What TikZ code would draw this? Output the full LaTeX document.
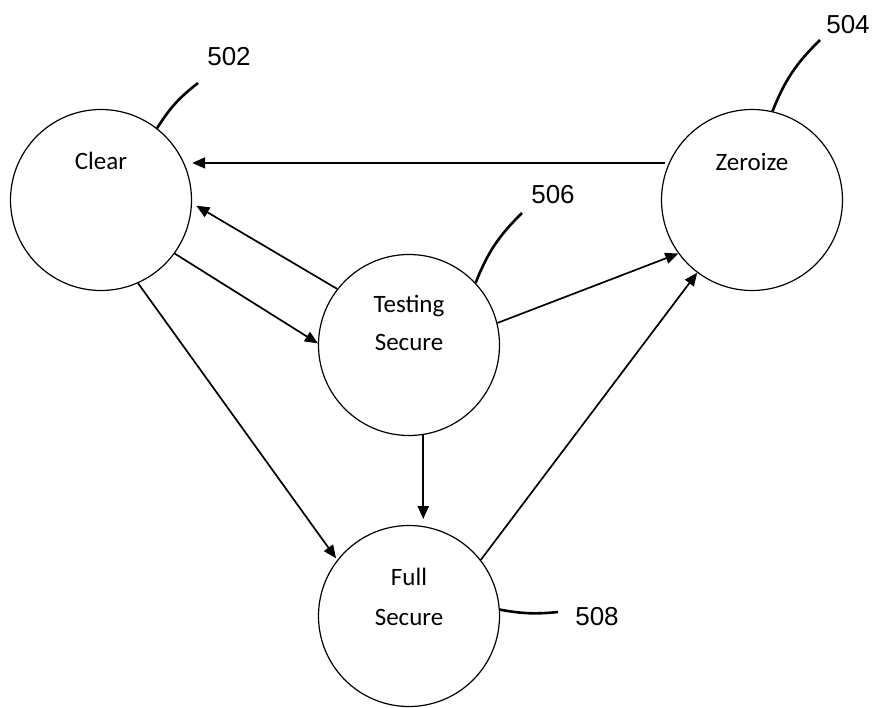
\documentclass[tikz,border=0pt]{standalone}
\usepackage{fontspec}
\setmainfont{Carlito}
\newfontfamily\numfont{Liberation Sans}
\usetikzlibrary{arrows.meta}
\begin{document}
\begin{tikzpicture}[x=1pt,y=-1pt,
  state/.style={circle, draw, line width=1.2pt, minimum size=181pt, inner sep=0pt},
  txt/.style={anchor=base, inner sep=0pt, font=\fontsize{25}{30}\selectfont},
  num/.style={inner sep=0pt, font=\numfont\fontsize{26}{30}\selectfont},
  conn/.style={line width=1.7pt, -{Triangle[length=13pt,width=11pt]}},
  lead/.style={line width=2.6pt}]
\useasboundingbox (0,0) rectangle (880,707);
\fill[white] (0,0) rectangle (880,707);

\node[state] (c) at (101,200) {};
\node[state] (z) at (752,200) {};
\node[state] (t) at (409,345) {};
\node[state] (f) at (409,616) {};

\node[txt] (ctext) at (101,169) {Clear};
\node[txt] (ztext) at (752,170) {Zeroize};
\node[txt] (ttext1) at (409,312) {Testing};
\node[txt] (ttext2) at (409,350) {Secure};
\node[txt] (ftext1) at (409,585) {Full};
\node[txt] (ftext2) at (409,625) {Secure};

\draw[conn, shorten <=4pt, shorten >=8pt] (z.156) -- (c.24);
\draw[conn, shorten >=5pt] (t.142) -- (c.-2);
\draw[conn] (c.-36) -- (t.179);
\draw[conn, shorten >=2pt] (c.-66) -- (f.142);
\draw[conn] (t.14) -- (z.216);
\draw[conn] (f.38) -- (z.233);
\draw[conn, line width=2.2pt, shorten >=7pt] (t.-81) -- (f.81);

\coordinate (l502) at (198,83);
\coordinate (l504) at (820,40);
\coordinate (l506) at (522,213);
\coordinate (l508) at (558,612);
\draw[lead] (c.52) to[bend left=10] (l502);
\draw[lead] (z.77) to[bend left=12] (l504);
\draw[lead] (t.43) to[bend left=12] (l506);
\draw[lead] (f.4) to[bend right=8] (l508);

\node[num] (n502) at (229,57) {502};
\node[num] (n504) at (848,25) {504};
\node[num] (n506) at (553,195) {506};
\node[num] (n508) at (597,617) {508};
\end{tikzpicture}
\end{document}
